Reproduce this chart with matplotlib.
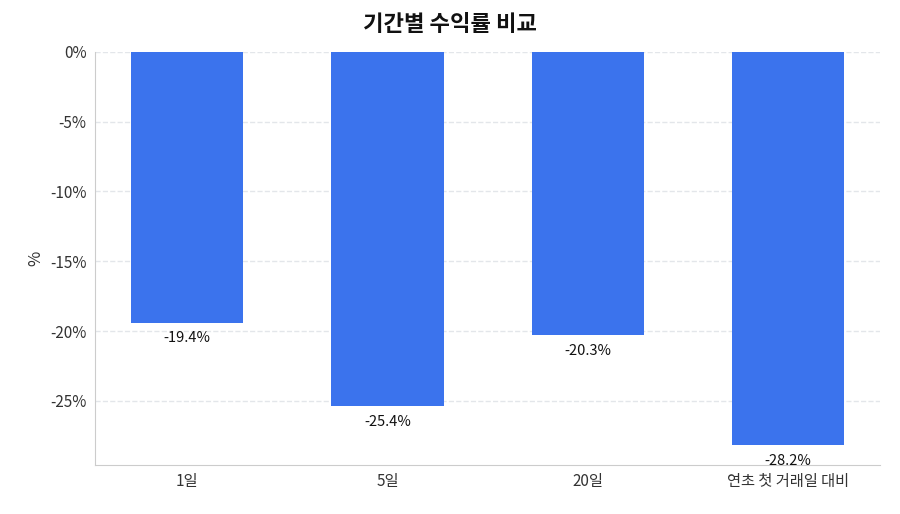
import matplotlib
matplotlib.use("Agg")
import matplotlib.pyplot as plt

plt.rcParams['font.family'] = ['Noto Sans CJK KR', 'DejaVu Sans']

categories = ["1일", "5일", "20일", "연초 첫 거래일 대비"]
values = [-19.4, -25.4, -20.3, -28.2]
yticks = [0, -5, -10, -15, -20, -25]

fig = plt.figure(figsize=(9, 5.14), dpi=100)
ax = fig.add_axes([0.1056, 0.0953, 0.8724, 0.8037])
x = range(len(categories))
ax.bar(x, values, width=0.56, color="#3b73ed", zorder=3)
for xi, v in zip(x, values):
    ax.text(xi, v - 0.6, f"{v:.1f}%", ha="center", va="top", fontsize=10.5, color="#111111")
ax.set_xticks(list(x))
ax.set_xticklabels(categories, fontsize=11, color="#333333")
ax.set_yticks(yticks)
ax.set_yticklabels([f"{t}%" for t in yticks], fontsize=11, color="#333333")
ax.set_ylim(-29.6, 0)
ax.set_xlim(-0.46, 3.46)
ax.set_ylabel("%", fontsize=12, color="#333333")
ax.grid(axis="y", linestyle="--", color="#e3e6ea", linewidth=1, zorder=0)
for s in ["top", "right"]:
    ax.spines[s].set_visible(False)
for s in ["left", "bottom"]:
    ax.spines[s].set_color("#cccccc")
ax.tick_params(axis="both", length=0, pad=6)
fig.suptitle("기간별 수익률 비교", fontsize=16, fontweight="bold", y=0.975, color="#111111")
fig.savefig("out.png", dpi=100)
